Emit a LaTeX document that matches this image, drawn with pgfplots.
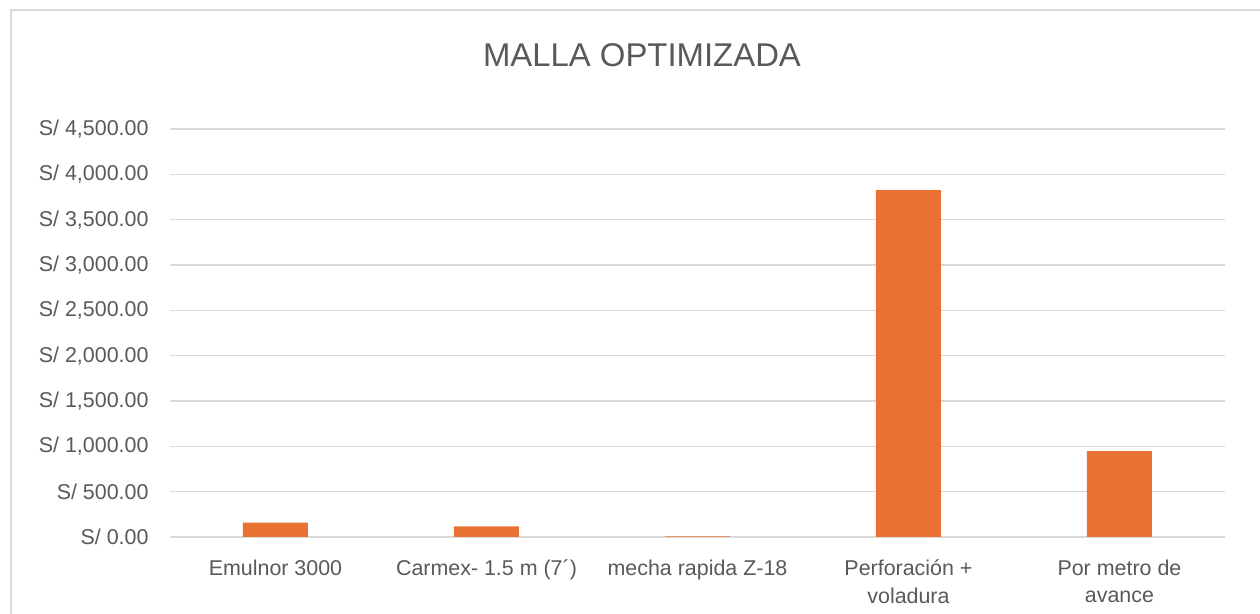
\documentclass[border=0pt]{standalone}
\usepackage{pgfplots}
\pgfplotsset{compat=1.18}
\usepackage{fontspec}
\setmainfont{Liberation Sans}
\definecolor{barorange}{HTML}{E97132}
\definecolor{gridgray}{HTML}{D9D9D9}
\definecolor{txtgray}{HTML}{595959}
\begin{document}
\begin{tikzpicture}[x=1bp,y=1bp]
\useasboundingbox (0,0) rectangle (1260,614);
\draw[gridgray, line width=1.5bp] (11,0) -- (11,604) -- (1260,604);
\node[txtgray, font=\fontsize{33}{40}\selectfont] at (642,559) {MALLA OPTIMIZADA};
\begin{axis}[
  at={(170bp,77bp)}, anchor=south west,
  scale only axis,
  width=1055bp, height=408bp,
  xmin=-0.5, xmax=4.5,
  ymin=0, ymax=4500,
  axis x line*=bottom,
  axis y line*=left,
  x axis line style={gridgray, line width=1.5bp},
  y axis line style={draw=none},
  ytick={0,500,...,4500},
  yticklabels={S/ 0.00,S/ 500.00,S/ 1{,}000.00,S/ 1{,}500.00,S/ 2{,}000.00,S/ 2{,}500.00,S/ 3{,}000.00,S/ 3{,}500.00,S/ 4{,}000.00,S/ 4{,}500.00},
  ymajorgrids,
  grid style={gridgray, line width=1.5bp},
  major tick length=0pt,
  xtick={0,1,2,3,4},
  xticklabels={Emulnor 3000, Carmex- 1.5 m (7´), mecha rapida Z-18, Perforación +\\voladura, Por metro de\\avance},
  xticklabel style={align=center, font=\fontsize{21.5}{28}\selectfont, text=txtgray, anchor=north, yshift=-19bp},
  yticklabel style={font=\fontsize{21.5}{24}\selectfont, text=txtgray, anchor=east, xshift=-18bp},
  /pgf/number format/assume math mode=true,
  clip=false,
]
\addplot[ybar, bar width=65bp, fill=barorange, draw=none] coordinates {
  (0,158) (1,118) (2,8) (3,3827) (4,948)
};
\end{axis}
\end{tikzpicture}
\end{document}
